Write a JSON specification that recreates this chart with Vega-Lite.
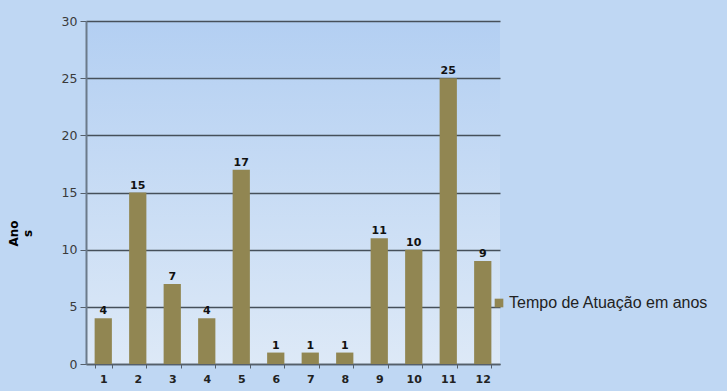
{
  "$schema": "https://vega.github.io/schema/vega-lite/v6.json",
  "width": 414,
  "height": 343,
  "autosize": {"type": "none"},
  "padding": {"left": 86, "top": 21, "right": 227, "bottom": 27},
  "background": "#BFD7F3",
  "config": {
    "view": {
      "stroke": null,
      "fill": {"gradient": "linear", "x1": 0, "y1": 0, "x2": 0, "y2": 1, "stops": [{"offset": 0, "color": "#B3CFF2"}, {"offset": 1, "color": "#DDE9F7"}]}
    },
    "font": "Liberation Sans"
  },
  "data": {
    "values": [
      {"item": "1", "anos": 4, "serie": "Tempo de Atuação em anos"},
      {"item": "2", "anos": 15, "serie": "Tempo de Atuação em anos"},
      {"item": "3", "anos": 7, "serie": "Tempo de Atuação em anos"},
      {"item": "4", "anos": 4, "serie": "Tempo de Atuação em anos"},
      {"item": "5", "anos": 17, "serie": "Tempo de Atuação em anos"},
      {"item": "6", "anos": 1, "serie": "Tempo de Atuação em anos"},
      {"item": "7", "anos": 1, "serie": "Tempo de Atuação em anos"},
      {"item": "8", "anos": 1, "serie": "Tempo de Atuação em anos"},
      {"item": "9", "anos": 11, "serie": "Tempo de Atuação em anos"},
      {"item": "10", "anos": 10, "serie": "Tempo de Atuação em anos"},
      {"item": "11", "anos": 25, "serie": "Tempo de Atuação em anos"},
      {"item": "12", "anos": 9, "serie": "Tempo de Atuação em anos"}
    ]
  },
  "encoding": {
    "x": {
      "field": "item",
      "type": "ordinal",
      "sort": null,
      "scale": {"paddingInner": 0.5, "paddingOuter": 0.25},
      "axis": {
        "title": null,
        "labelAngle": 0,
        "labelFont": "DejaVu Sans",
        "labelFontWeight": "bold",
        "labelFontSize": 11,
        "labelColor": "#222222",
        "labelPadding": 5,
        "domainColor": "#555f6a",
        "domainWidth": 1.5,
        "tickColor": "#555f6a",
        "tickBand": "extent",
        "tickSize": 4,
        "tickOffset": 0
      }
    },
    "y": {
      "field": "anos",
      "type": "quantitative",
      "scale": {"domain": [0, 30]},
      "axis": {
        "values": [0, 5, 10, 15, 20, 25, 30],
        "title": ["Ano", "s"],
        "titleFont": "DejaVu Sans",
        "titleFontWeight": "bold",
        "titleFontSize": 12,
        "titleColor": "#000000",
        "titleX": -66,
        "titleY": 212,
        "titleAngle": -90,
        "labelFont": "DejaVu Sans",
        "labelFontSize": 12.5,
        "labelColor": "#3a3a3a",
        "labelPadding": 3,
        "grid": true,
        "gridColor": "#46505a",
        "gridWidth": 1.3,
        "domainColor": "#6b7a8a",
        "domainWidth": 2,
        "tickColor": "#555f6a",
        "tickSize": 6
      }
    }
  },
  "layer": [
    {
      "mark": {"type": "bar"},
      "encoding": {
        "color": {
          "field": "serie",
          "type": "nominal",
          "scale": {"range": ["#918652"]},
          "legend": {
            "title": null,
            "orient": "none",
            "legendX": 405,
            "legendY": 274,
            "symbolType": "square",
            "symbolSize": 75,
            "symbolStrokeWidth": 0,
            "labelFont": "Liberation Sans",
            "labelFontSize": 16,
            "labelLimit": 0,
            "labelColor": "#222222",
            "labelOffset": 2
          }
        }
      }
    },
    {
      "mark": {"type": "text", "dy": -7, "font": "DejaVu Sans", "fontWeight": "bold", "fontSize": 11, "color": "#111111"},
      "encoding": {"text": {"field": "anos", "type": "quantitative"}}
    }
  ]
}
